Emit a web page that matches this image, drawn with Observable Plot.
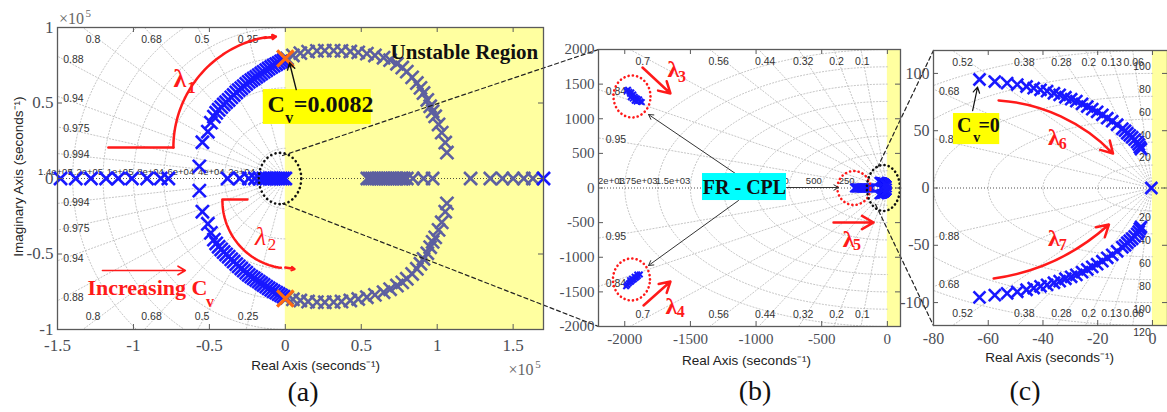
<!DOCTYPE html>
<html><head><meta charset="utf-8">
<script src="https://cdn.jsdelivr.net/npm/d3@7"></script>
<script src="https://cdn.jsdelivr.net/npm/@observablehq/plot@0.6"></script>
<style>
body{margin:0;background:#fff;}
#root{position:relative;width:1167px;height:412px;overflow:hidden;background:#fff;}
#root svg{position:absolute;top:0;overflow:visible;background:transparent;}
.cap{position:absolute;font-family:"Liberation Serif","Times New Roman",serif;font-size:28px;color:#111;transform:translate(-50%,-50%);}
</style></head><body><div id="root"></div>
<script>
// ---------------- DATA ----------------
// Panel (a): units of 1e5 s^-1
const aXTicks = [-1.5,-1,-0.5,0,0.5,1,1.5];
const aYTicks = [-1,-0.5,0,0.5,1];
const aZetas = [0.25,0.5,0.68,0.8,0.88,0.94,0.975,0.994];
const aOmegas = [0.2,0.4,0.6,0.8,1.0,1.2,1.4];
const aOmegaLabels = ["2e+04","4e+04","6e+04","8e+04","1e+05","1.2e+05","1.4e+05"];
const aBlueArcRe = [-0.566,-0.546,-0.51,-0.49,-0.47,-0.455,-0.439,-0.422,-0.406,-0.39,-0.373,-0.356,-0.34,-0.323,-0.307,-0.29,-0.274,-0.257,-0.241,-0.224,-0.208,-0.191,-0.175,-0.159,-0.143,-0.126,-0.11,-0.093,-0.077,-0.06,-0.044,-0.028,-0.012];
const aBlueArcIm = [0.08,0.24,0.31,0.37,0.41,0.435,0.455,0.473,0.49,0.505,0.52,0.537,0.553,0.57,0.585,0.598,0.612,0.626,0.64,0.651,0.662,0.673,0.684,0.695,0.706,0.717,0.728,0.738,0.748,0.757,0.766,0.775,0.783];
const aBlueArcLowIm = [-0.08,-0.22,-0.30,-0.36,-0.405,-0.43,-0.452,-0.47,-0.487,-0.503,-0.518,-0.535,-0.55,-0.567,-0.582,-0.596,-0.61,-0.624,-0.638,-0.65,-0.661,-0.672,-0.683,-0.694,-0.705,-0.716,-0.727,-0.737,-0.747,-0.756,-0.765,-0.774,-0.782];
const aGrayArcRe = [0.011,0.05,0.099,0.15,0.208,0.26,0.318,0.37,0.428,0.48,0.537,0.59,0.647,0.69,0.735,0.77,0.80,0.835,0.866,0.89,0.91,0.935,0.954,0.97,0.987,1.009,1.03,1.053,1.064];
const aGrayArcIm = [0.795,0.815,0.83,0.84,0.845,0.847,0.847,0.845,0.841,0.835,0.827,0.815,0.8,0.784,0.76,0.735,0.708,0.67,0.632,0.6,0.566,0.52,0.478,0.445,0.412,0.358,0.304,0.238,0.172];
const aGrayArcLowIm = [-0.79,-0.8,-0.808,-0.815,-0.819,-0.82,-0.819,-0.815,-0.808,-0.798,-0.786,-0.771,-0.753,-0.733,-0.709,-0.688,-0.664,-0.632,-0.598,-0.565,-0.532,-0.495,-0.455,-0.42,-0.39,-0.34,-0.29,-0.22,-0.165];
const aBlueRealRe = [-1.48,-1.38,-1.28,-1.18,-1.10,-1.01,-0.91,-0.82,-0.77,-0.38,-0.30,-0.24,-0.20,-0.17,-0.145,-0.125,-0.105,-0.09,-0.075,-0.06,-0.045,-0.03,-0.015,0];
const aGrayRealRe = [0.54,0.555,0.57,0.585,0.6,0.615,0.63,0.645,0.66,0.675,0.69,0.705,0.72,0.735,0.75,0.765,0.78,0.80,0.84,0.91,0.97,1.22,1.35,1.43,1.50,1.57,1.63];
const aEndRe = [1.70];
const aCritRe = [0, 0];
const aCritIm = [0.795, -0.795];

// Panel (b): s^-1
const bXTicks = [-2000,-1500,-1000,-500,0];
const bYTicks = [-2000,-1500,-1000,-500,0,500,1000,1500,2000];
const bZetas = [0.1,0.2,0.32,0.44,0.56,0.7,0.84,0.95];
const bOmegas = [250,500,750,1000,1250,1500,1750,2000];
const bOmegaLabels = ["250","500","750","1e+03","1.25e+03","1.5e+03","1.75e+03","2e+03"];
const bUpBlobRe = [-1985,-1975,-1965,-1960,-1950,-1945,-1935,-1925,-1915,-1905,-1895,-1880,-1870,-1955,-1940,-1925,-1910,-1890];
const bUpBlobIm = [1400,1420,1390,1360,1380,1340,1350,1320,1300,1290,1270,1250,1240,1310,1290,1260,1250,1280];
const bLowBlobRe = [-1990,-1980,-1970,-1960,-1950,-1940,-1930,-1920,-1910,-1900,-1885,-1960,-1945,-1925,-1905];
const bLowBlobIm = [-1420,-1400,-1380,-1360,-1350,-1330,-1320,-1300,-1290,-1270,-1250,-1330,-1310,-1280,-1250];
const bRealRe = [-250,-240,-230,-220,-210,-200,-190,-180,-170,-160,-150,-140,-130,-120];

// Panel (c): s^-1
const cXTicks = [-80,-60,-40,-20,0];
const cYTicks = [-100,-50,0,50,100];
const cZetas = [0.06,0.13,0.2,0.28,0.38,0.52,0.68,0.88];
const cOmegas = [20,40,60,80,100,120];
const cOmegaUp = [20,40,60,80,100];
const cOmegaLow = [20,40,60,80,100,120];
const cArc6Re = [-63.2,-57.6,-53.1,-49.4,-46.0,-43.4,-40.9,-38.5,-36.0,-33.9,-31.8,-29.7,-27.8,-25.7,-23.8,-22.0,-20.2,-18.3,-16.5,-14.7,-12.9,-11.0,-10.0,-9.2,-8.3,-7.4,-6.5,-5.6,-5.0,-4.6,-4.2];
const cArc6Im = [94.7,92.9,91.5,90.3,88.6,87.1,85.7,84.5,82.7,81.3,79.2,77.5,75.8,73.5,71.1,68.8,66.5,63.9,60.9,58.3,55.2,51.7,50.0,47.8,46.0,44.3,42.2,40.0,38.0,35.6,34.0];
const cArc7Re = [-63.2,-57.6,-53.1,-49.4,-46.0,-43.4,-40.9,-38.5,-36.0,-33.9,-31.8,-29.7,-27.8,-25.7,-23.8,-22.0,-20.2,-18.3,-16.5,-14.7,-12.9,-11.0,-10.0,-9.2,-8.3,-7.4,-6.5,-5.6,-5.0,-4.6,-4.2];
const cArc7Im = [-95.5,-93.5,-92.0,-90.6,-88.8,-87.3,-85.8,-84.5,-82.7,-81.3,-79.2,-77.5,-75.8,-73.5,-71.1,-68.8,-66.5,-63.9,-60.9,-58.3,-55.2,-51.7,-50.0,-47.8,-46.0,-44.3,-42.2,-40.0,-38.0,-35.6,-34.0];
const cOriginRe = [-0.4];

// ---------------- STYLE ----------------
const H = 412;
const SERIF = "'Liberation Serif','Times New Roman',serif";
const SANS = "'Liberation Sans',Arial,sans-serif";
const YEL = "#ffffa0", BLUE = "#1818ff", SLATE = "#5d5fa0", RED = "#ff1a1a", AXC = "#4a4e56";
const root = document.getElementById("root");

function ellipse(cx, cy, rx, ry) {
  return d3.range(121).map(i => { const t = 2*Math.PI*i/120; return {x: cx + rx*Math.cos(t), y: cy + ry*Math.sin(t)}; });
}
function gridLines(zetas, omegas, xd, yd) {
  const R = 3*Math.max(-xd[0], yd[1]);
  const pts = [];
  zetas.forEach((z, i) => { const w = Math.sqrt(1 - z*z); for (const s of [1, -1]) { pts.push({k:`z${i}${s}`, x:0, y:0}, {k:`z${i}${s}`, x:-z*R, y:s*w*R}); } });
  omegas.forEach((om, i) => { for (let j = 0; j <= 120; j++) { const t = Math.PI/2 + Math.PI*j/120; pts.push({k:`w${i}`, x:om*Math.cos(t), y:om*Math.sin(t)}); } });
  return Plot.line(pts, {x:"x", y:"y", z:"k", stroke:"#b8b8b8", strokeWidth:0.8, strokeDasharray:"1.2,2", clip:true});
}
function zetaLabels(zetas, xd, yd, fs) {
  const yT = 0.95*yd[1], xL = 0.975*xd[0];
  const top = [], left = [];
  for (const z of zetas) {
    const w = Math.sqrt(1 - z*z), tT = yT/w, tL = -xL/z;
    if (tT < tL) top.push({x: -z*tT, t: String(z)});
    else left.push({y: w*tL, t: String(z)});
  }
  const o = {fontFamily: SANS, fontSize: fs, fill: "#333"};
  return [
    Plot.text(top, {x:"x", y:() => yT, text:"t", dy:5, ...o}),
    Plot.text(top, {x:"x", y:() => -yT, text:"t", dy:-5, ...o}),
    Plot.text(left, {x:() => xL, y:"y", text:"t", textAnchor:"start", ...o}),
    Plot.text(left, {x:() => xL, y:d => -d.y, text:"t", textAnchor:"start", ...o})
  ];
}
function lab(x, y, t, o = {}) {
  return Plot.text([0], {x:() => x, y:() => y, text:() => t, textAnchor:"start", fontFamily:SERIF, fontWeight:"bold", fill:RED, fontSize:24, ...o});
}
function arrow(x1, y1, x2, y2, o = {}) {
  return Plot.arrow([0], {x1:() => x1, y1:() => y1, x2:() => x2, y2:() => y2, stroke:RED, strokeWidth:2.5, ...o});
}
function seg(pts, o = {}) {
  return Plot.line(pts, {x:d => d[0], y:d => d[1], stroke:RED, strokeWidth:2.5, ...o});
}
function xs(re, im, o) { return Plot.dot(re, {x:re, y:im, symbol:"times", ...o}); }

function panel(c) {
  const [mt, mr, mb, ml] = c.margin;
  const pxX = (c.width - ml - mr)/(c.xd[1] - c.xd[0]);
  const pxY = (H - mt - mb)/(c.yd[1] - c.yd[0]);
  const tx = 5/pxY, ty = 5/pxX;
  const [x0, x1] = c.xd, [y0, y1] = c.yd;
  const tickO = {fontFamily:SERIF, fontSize:c.tickFs, fill:AXC};
  const svg = Plot.plot({
    width:c.width, height:H, marginTop:mt, marginRight:mr, marginBottom:mb, marginLeft:ml,
    x:{domain:c.xd, axis:null}, y:{domain:c.yd, axis:null},
    style:{background:"transparent", overflow:"visible"},
    marks:[
      Plot.rect([0], {x1:() => 0, x2:() => x1, y1:() => y0, y2:() => y1, fill:YEL}),
      gridLines(c.zetas, c.omegas, c.xd, c.yd),
      Plot.ruleY([0], {stroke:"#222", strokeWidth:0.8, strokeDasharray:"1,2"}),
      ...zetaLabels(c.zetas, c.xd, c.yd, c.gridFs),
      ...c.marks,
      Plot.frame({stroke:"#5a5a5a", strokeWidth:1.3}),
      Plot.ruleX(c.xt, {x:d => d, y1:() => y0, y2:() => y0 + tx, stroke:"#5a5a5a"}),
      Plot.ruleX(c.xt, {x:d => d, y1:() => y1 - tx, y2:() => y1, stroke:"#5a5a5a"}),
      Plot.ruleY(c.yt, {y:d => d, x1:() => x0, x2:() => x0 + ty, stroke:"#5a5a5a"}),
      Plot.ruleY(c.yt, {y:d => d, x1:() => x1 - ty, x2:() => x1, stroke:"#5a5a5a"}),
      Plot.text(c.xt, {x:d => d, y:() => y0, dy:c.xdy, text:d => String(d), ...tickO}),
      Plot.text(c.yt, {x:() => x0, y:d => d, dx:-4, text:d => String(d), textAnchor:"end", ...tickO}),
      ...c.top
    ]
  });
  svg.style.left = c.left + "px";
  root.append(svg);
}

// ---------------- PANEL (a) ----------------
const arc = (cx, cy, rx, ry, a0, a1) => d3.range(41).map(i => { const a = (a0 + (a1 - a0)*i/40)*Math.PI/180; return [cx + rx*Math.cos(a), cy + ry*Math.sin(a)]; });
panel({
  left:0, width:560, margin:[27,17,83,57], xd:[-1.5,1.7], yd:[-1,1], xt:aXTicks, yt:aYTicks,
  tickFs:17, xdy:16, gridFs:10.5, zetas:aZetas, omegas:aOmegas,
  marks:[
    Plot.text(aOmegas, {x:d => -d, y:() => 0, dy:-7, text:(d, i) => aOmegaLabels[i], textAnchor:"end", fontFamily:SANS, fontSize:9.5, fill:"#333"}),
    xs(aGrayArcRe, aGrayArcIm, {r:6, stroke:SLATE, strokeWidth:2.6}),
    xs(aGrayArcRe, aGrayArcLowIm, {r:6, stroke:SLATE, strokeWidth:2.6}),
    xs(aGrayRealRe, aGrayRealRe.map(() => 0), {r:6, stroke:SLATE, strokeWidth:2.6}),
    xs(aEndRe, [0], {r:6, stroke:BLUE, strokeWidth:2.6}),
    xs(aBlueRealRe, aBlueRealRe.map(() => 0), {r:6, stroke:BLUE, strokeWidth:2.6}),
    xs(aBlueArcRe, aBlueArcIm, {r:6, stroke:BLUE, strokeWidth:2.6}),
    xs(aBlueArcRe, aBlueArcLowIm, {r:6, stroke:BLUE, strokeWidth:2.6}),
    xs(aCritRe, aCritIm, {r:7.5, stroke:"#ff6a10", strokeWidth:3.2}),
    Plot.line(ellipse(-0.035, 0, 0.14, 0.17), {x:"x", y:"y", stroke:"#111", strokeWidth:2.6, strokeDasharray:"0.1,4.5", strokeLinecap:"round"}),
    seg([[-0.018,0.152],[2.062,0.854]], {stroke:"#222", strokeWidth:1.2, strokeDasharray:"4,3"}),
    seg([[-0.018,-0.166],[2.062,-0.98]], {stroke:"#222", strokeWidth:1.2, strokeDasharray:"4,3"}),
    // λ1
    seg([[-1.165,0.205],[-0.737,0.205]]),
    seg(arc(0, 0.205, 0.737, 0.742, 180, 100)),
    arrow(-0.14, 0.93, -0.062, 0.94, {strokeWidth:2.5}),
    lab(-0.737, 0.662, "λ", {fontSize:26}),
    lab(-0.645, 0.6, "1", {fontSize:17}),
    // λ2
    seg([[-0.414,-0.139],[-0.25,-0.139]]),
    seg(arc(0.033, -0.146, 0.447, 0.45, 180, 262)),
    arrow(0.0, -0.59, 0.06, -0.6, {strokeWidth:2.5}),
    lab(-0.2, -0.384, "λ", {fontSize:26, fontWeight:"normal", fontStyle:"italic"}),
    lab(-0.115, -0.44, "2", {fontSize:17, fontWeight:"normal"}),
    // Increasing Cv
    arrow(-1.204, -0.609, -0.658, -0.609, {strokeWidth:1.6}),
    lab(-1.303, -0.722, "Increasing C", {fontSize:22}),
    lab(-0.522, -0.815, "v", {fontSize:16}),
    // Cv = 0.0082 box
    Plot.rect([0], {x1:() => -0.145, x2:() => 0.566, y1:() => 0.358, y2:() => 0.589, fill:"#ffff00"}),
    lab(-0.118, 0.49, "C", {fontSize:24, fill:"#111"}),
    lab(0.0, 0.4, "v", {fontSize:16, fill:"#111"}),
    lab(0.056, 0.49, "=0.0082", {fontSize:24, fill:"#111"}),
    arrow(0.072, 0.589, 0.028, 0.765, {stroke:"#111", strokeWidth:1.4}),
    // Unstable region
    lab(1.665, 0.834, "Unstable Region", {textAnchor:"end", fontSize:21, fill:"#111"})
  ],
  top:[
    lab(-1.49, 1.055, "×10", {fontSize:16, fontWeight:"normal", fill:"#666"}),
    lab(-1.315, 1.095, "5", {fontSize:11, fontWeight:"normal", fill:"#666"}),
    lab(1.47, -1.27, "×10", {fontSize:16, fontWeight:"normal", fill:"#666"}),
    lab(1.645, -1.23, "5", {fontSize:11, fontWeight:"normal", fill:"#666"}),
    lab(-1.756, 0.013, "Imaginary Axis (seconds⁻¹)", {textAnchor:"middle", rotate:-90, fontFamily:SANS, fontWeight:"normal", fontSize:13.5, fill:"#222"}),
    lab(0.2, -1.238, "Real Axis (seconds⁻¹)", {textAnchor:"middle", fontFamily:SANS, fontWeight:"normal", fontSize:13.5, fill:"#222"})
  ]
});

// ---------------- PANEL (b) ----------------
// frequency labels hidden behind the FR - CPL box in the reference are not drawn
const bBox = [-1408, -768];
const bLabIdx = bOmegas.map((d, i) => i).filter(i => -bOmegas[i] < bBox[0] || -bOmegas[i] > bBox[1]);
panel({
  left:560, width:340, margin:[49,0,86,38], xd:[-2200,100], yd:[-2000,2000], xt:bXTicks, yt:bYTicks,
  tickFs:15, xdy:13, gridFs:10.5, zetas:bZetas, omegas:bOmegas,
  marks:[
    Plot.text(bLabIdx, {x:i => -bOmegas[i], y:() => 0, dy:-7, text:i => bOmegaLabels[i], textAnchor:"end", fontFamily:SANS, fontSize:9.5, fill:"#333"}),
    xs(bUpBlobRe, bUpBlobIm, {r:2.6, stroke:BLUE, strokeWidth:2}),
    xs(bLowBlobRe, bLowBlobIm, {r:2.6, stroke:BLUE, strokeWidth:2}),
    xs(bRealRe, bRealRe.map(() => 0), {r:4, stroke:BLUE, strokeWidth:2.2}),
    xs(cArc6Re, cArc6Im, {r:4, stroke:BLUE, strokeWidth:2.2}),
    xs(cArc7Re, cArc7Im, {r:4, stroke:BLUE, strokeWidth:2.2}),
    xs(cOriginRe, [0], {r:4, stroke:BLUE, strokeWidth:2.2}),
    Plot.line(ellipse(-1945, 1321, 141, 303), {x:"x", y:"y", stroke:RED, strokeWidth:2.6, strokeDasharray:"0.1,4.2", strokeLinecap:"round"}),
    Plot.line(ellipse(-1949, -1321, 141, 303), {x:"x", y:"y", stroke:RED, strokeWidth:2.6, strokeDasharray:"0.1,4.2", strokeLinecap:"round"}),
    Plot.line(ellipse(-255, 0, 126, 245), {x:"x", y:"y", stroke:RED, strokeWidth:2.6, strokeDasharray:"0.1,4.2", strokeLinecap:"round"}),
    Plot.line(ellipse(-30, 0, 126, 332), {x:"x", y:"y", stroke:"#111", strokeWidth:2.6, strokeDasharray:"0.1,4.2", strokeLinecap:"round"}),
    seg([[-75,296],[351,1986]], {stroke:"#222", strokeWidth:1.2, strokeDasharray:"4,3"}),
    seg([[-90,-238],[351,-1986]], {stroke:"#222", strokeWidth:1.2, strokeDasharray:"4,3"}),
    // FR-CPL
    arrow(-1157, 209, -1819, 1061, {stroke:"#333", strokeWidth:1}),
    arrow(-1134, -181, -1819, -1119, {stroke:"#333", strokeWidth:1}),
    arrow(-768, 7, -372, 7, {stroke:"#333", strokeWidth:1}),
    Plot.rect([0], {x1:() => bBox[0], x2:() => bBox[1], y1:() => -181, y2:() => 209, fill:"#00ffff"}),
    lab(-1088, 7, "FR - CPL", {textAnchor:"middle", fontSize:20, fill:"#111"}),
    // λ3 λ4 λ5
    arrow(-1865, 1740, -1652, 1365),
    lab(-1675, 1711, "λ", {fontSize:24}),
    lab(-1595, 1610, "3", {fontSize:16}),
    arrow(-1857, -1697, -1652, -1350),
    lab(-1690, -1711, "λ", {fontSize:24}),
    lab(-1605, -1790, "4", {fontSize:16}),
    arrow(-410, -498, -105, -498),
    lab(-340, -744, "λ", {fontSize:24}),
    lab(-262, -820, "5", {fontSize:16})
  ],
  top:[
    lab(-1073, -2491, "Real Axis (seconds⁻¹)", {textAnchor:"middle", fontFamily:SANS, fontWeight:"normal", fontSize:13.5, fill:"#222"})
  ]
});

// ---------------- PANEL (c) ----------------
panel({
  left:900, width:267, margin:[50,0,87,33], xd:[-80,5.5], yd:[-120,120], xt:cXTicks, yt:cYTicks,
  tickFs:16, xdy:13, gridFs:10.5, zetas:cZetas, omegas:cOmegas,
  marks:[
    Plot.text(cOmegaUp, {x:() => -0.6, y:d => d, dy:-7, text:d => String(d), textAnchor:"end", fontFamily:SANS, fontSize:10.5, fill:"#333"}),
    Plot.text(cOmegaLow, {x:() => -0.6, y:d => -d, dy:7, text:d => String(d), textAnchor:"end", fontFamily:SANS, fontSize:10.5, fill:"#333"}),
    xs(cArc6Re, cArc6Im, {r:5.5, stroke:BLUE, strokeWidth:2.6}),
    xs(cArc7Re, cArc7Im, {r:5.5, stroke:BLUE, strokeWidth:2.6}),
    xs(cOriginRe, [0], {r:5.5, stroke:BLUE, strokeWidth:2.6}),
    // Cv = 0
    Plot.rect([0], {x1:() => -72.7, x2:() => -55.8, y1:() => 37.9, y2:() => 65, fill:"#ffff00"}),
    lab(-71.4, 54.5, "C", {fontSize:20, fill:"#111"}),
    lab(-65.5, 44, "v", {fontSize:14, fill:"#111"}),
    lab(-63.6, 54.5, "=0", {fontSize:20, fill:"#111"}),
    arrow(-65.7, 67.6, -63.9, 88, {stroke:"#111", strokeWidth:1.2}),
    // λ6 λ7
    arrow(-56.2, 76.4, -14.4, 30.1, {bend:21}),
    lab(-38.2, 44.1, "λ", {fontSize:24}),
    lab(-34.2, 38.5, "6", {fontSize:16}),
    arrow(-58, -79, -15.9, -31.9, {bend:-17}),
    lab(-38.2, -44.1, "λ", {fontSize:24}),
    lab(-34.2, -50, "7", {fontSize:16})
  ],
  top:[
    lab(-37.6, -148, "Real Axis (seconds⁻¹)", {textAnchor:"middle", fontFamily:SANS, fontWeight:"normal", fontSize:13.5, fill:"#222"})
  ]
});

// captions
for (const [t, x, y] of [["(a)", 303, 392], ["(b)", 755, 391], ["(c)", 1025, 391]]) {
  const d = document.createElement("div"); d.className = "cap"; d.textContent = t;
  d.style.left = x + "px"; d.style.top = y + "px"; root.append(d);
}
</script></body></html>
